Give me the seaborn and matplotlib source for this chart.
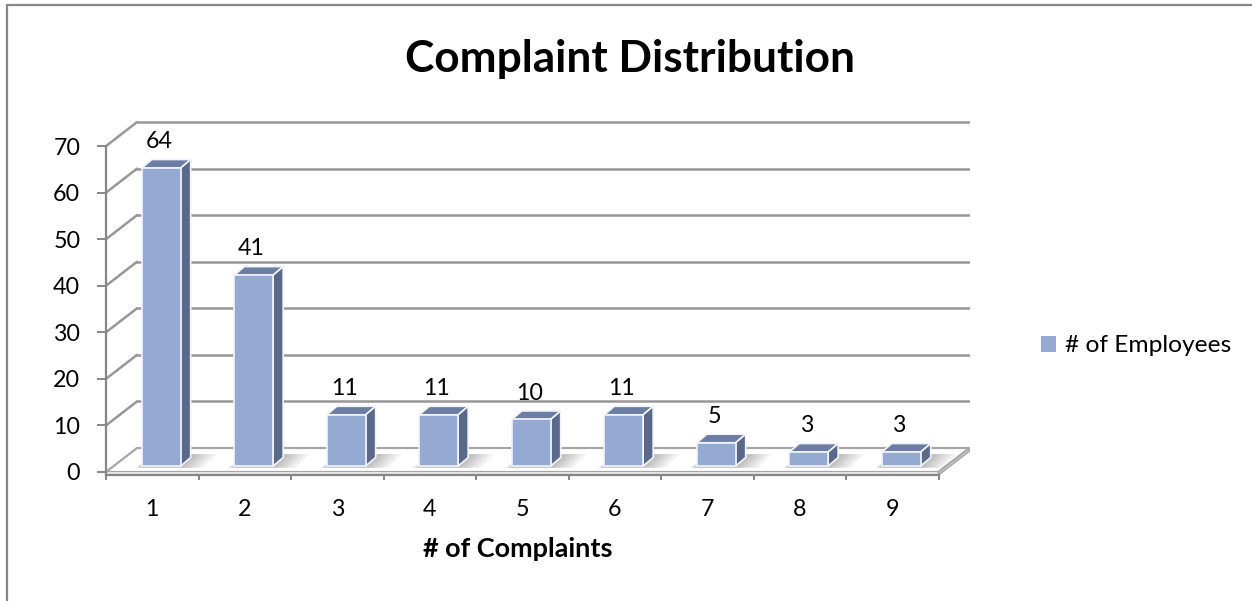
import numpy as np
import pandas as pd
import seaborn as sns
import matplotlib.pyplot as plt
from matplotlib.patches import Polygon, Rectangle
from matplotlib.lines import Line2D
from matplotlib.transforms import offset_copy

# data
complaints = ["1", "2", "3", "4", "5", "6", "7", "8", "9"]
employees = [64, 41, 11, 11, 10, 11, 5, 3, 3]
series_name = "# of Employees"
y_ticks = [0, 10, 20, 30, 40, 50, 60, 70]

df = pd.DataFrame({"complaints": complaints, "employees": employees, "series": series_name})

sns.set_theme(style="white")
plt.rcParams["font.family"] = ["Lato", "DejaVu Sans"]
plt.rcParams["text.color"] = "black"
plt.rcParams["axes.labelcolor"] = "black"

FRONT = "#95AAD3"
TOP = "#6B7DA3"
SIDE = "#5A6889"
EDGE = "#F2F4FA"
GRID = "#979797"
AXIS = "#868686"

W, H, DPI = 1252, 601, 100
PX_CAT, PX_VAL = 92.5, 4.656  # pixels per category / per unit
WALL = (31, 24)  # depth of the 3d box in pixels
BAR_FRONT = (9, 6)  # bars sit a bit behind the front plane
BAR_DEPTH = (10, 8.5)

n = len(complaints)
wx, wy = WALL[0] / PX_CAT, WALL[1] / PX_VAL
x0, x1 = -0.5, n - 0.5 + wx
y0, y1 = -3 / PX_VAL, 76

fig = plt.figure(figsize=(W / DPI, H / DPI), dpi=DPI)
renderer = fig.canvas.get_renderer()


def fit_size(text, target_px, weight="normal", base=20):
    # font size that gives the text the width it has in the reference
    t = fig.text(0, 0, text, fontsize=base, fontweight=weight)
    w = t.get_window_extent(renderer).width
    t.remove()
    return base * target_px / w


TICK_FS = fit_size("70", 27)
LEG_FS = fit_size(series_name, 166)
XLAB_FS = fit_size("# of Complaints", 190, "bold")
TITLE_FS = fit_size("Complaint Distribution", 450, "bold")

ax_w, ax_h = (x1 - x0) * PX_CAT, (y1 - y0) * PX_VAL
ax = fig.add_axes([106 / W, (H - 475) / H, ax_w / W, ax_h / H])

sns.barplot(
    data=df, x="complaints", y="employees", hue="series", palette=[FRONT],
    width=0.42, dodge=False, ax=ax, edgecolor=EDGE, linewidth=1.2,
    saturation=1, zorder=4,
)
ax.set_xlim(x0, x1)
ax.set_ylim(y0, y1)

# back wall, left wall and floor
for t in y_ticks[1:]:
    ax.plot([x0 + wx, n - 0.5 + wx], [t + wy, t + wy], color=GRID, lw=1.8, zorder=0.5)
    ax.plot([x0, x0 + wx], [t, t + wy], color=GRID, lw=1.8, zorder=0.5)
ax.add_patch(Polygon([(x0, 0), (n - 0.5, 0), (n - 0.5 + wx, wy), (x0 + wx, wy)],
                     closed=True, fc="white", ec="#A6A6A6", lw=1.6, zorder=1))
ax.add_patch(Rectangle((x0, y0), n, -y0, fc="#E6E6E6", ec="none", zorder=1))
ax.add_patch(Polygon([(n - 0.5, y0), (n - 0.5 + wx, y0 + wy), (n - 0.5 + wx, wy), (n - 0.5, 0)],
                     closed=True, fc="#DADADA", ec="#A6A6A6", lw=1.2, zorder=1))

# fake 3d faces on top of the seaborn bars
tr = offset_copy(ax.transData, fig=fig, x=BAR_FRONT[0], y=BAR_FRONT[1], units="dots")
dx, dy = BAR_DEPTH[0] / PX_CAT, BAR_DEPTH[1] / PX_VAL
for bar, v in zip(ax.containers[0], employees):
    bx, bw, bh = bar.get_x(), bar.get_width(), bar.get_height()
    bar.set_transform(tr)
    # soft shadow on the floor
    for k in range(5):
        s = 0.04 + 0.05 * k
        ax.add_patch(Polygon([(bx - 0.08 + 0.015 * k, -0.4), (bx + bw + s, -0.4),
                              (bx + bw + s + dx * 1.4, dy * 1.4), (bx + dx * 1.4, dy * 1.4)],
                             closed=True, fc="black", ec="none", alpha=0.05, transform=tr, zorder=1.5))
    ax.add_patch(Polygon([(bx, bh), (bx + bw, bh), (bx + bw + dx, bh + dy), (bx + dx, bh + dy)],
                         closed=True, fc=TOP, ec=EDGE, lw=1.2, transform=tr, zorder=3.9))
    ax.add_patch(Polygon([(bx + bw, 0), (bx + bw + dx, dy), (bx + bw + dx, bh + dy), (bx + bw, bh)],
                         closed=True, fc=SIDE, ec=EDGE, lw=1.2, transform=tr, zorder=3.9))
    ax.annotate(f"{v}", xy=(bx + bw / 2, bh), xycoords=tr, xytext=(-1.5, 19),
                textcoords="offset points", ha="center", va="center", fontsize=TICK_FS, color="black")

# axes
for s in ["top", "right"]:
    ax.spines[s].set_visible(False)
ax.spines["left"].set_bounds(y0, 70)
ax.spines["bottom"].set_bounds(x0, n - 0.5)
for s in ["left", "bottom"]:
    ax.spines[s].set_color(AXIS)
    ax.spines[s].set_linewidth(1.6)
ax.set_yticks(y_ticks)
ax.tick_params(axis="y", left=True, length=6.5, width=1.4, color=AXIS, labelsize=TICK_FS, pad=12,
               labelcolor="black")
ax.set_xticks(np.arange(n + 1) - 0.5, labels=[])
ax.set_xticks(np.arange(n), labels=complaints, minor=True)
ax.tick_params(axis="x", which="major", bottom=True, length=3.8, width=1.4, color=AXIS)
ax.tick_params(axis="x", which="minor", bottom=False, length=0, labelsize=TICK_FS, pad=17,
               labelcolor="black")
ax.set_ylabel("")
ax.set_xlabel("# of Complaints", fontsize=XLAB_FS, fontweight="bold", color="black")
ax.xaxis.set_label_coords((518 - 106) / ax_w, -(549 - 475) / ax_h)
ax.xaxis.label.set_verticalalignment("center")

leg = ax.legend(loc="center left", bbox_to_anchor=(1041 / W, 1 - 346 / H), bbox_transform=fig.transFigure,
                frameon=False, fontsize=LEG_FS, handlelength=0.6, handleheight=0.6, handletextpad=0.4,
                borderaxespad=0, borderpad=0, labelcolor="black")
for h in leg.get_patches():
    h.set_edgecolor("none")

fig.text(630 / W, 1 - 72 / H, "Complaint Distribution", ha="center", va="baseline",
         fontsize=TITLE_FS, fontweight="bold", color="black")

# chart frame (left and top edges visible)
fig.add_artist(Line2D([7 / W, 7 / W], [0, 1 - 5 / H], transform=fig.transFigure, color=AXIS, lw=1.6))
fig.add_artist(Line2D([7 / W, 1], [1 - 5 / H, 1 - 5 / H], transform=fig.transFigure, color=AXIS, lw=1.6))

fig.savefig("out.png", dpi=DPI)
